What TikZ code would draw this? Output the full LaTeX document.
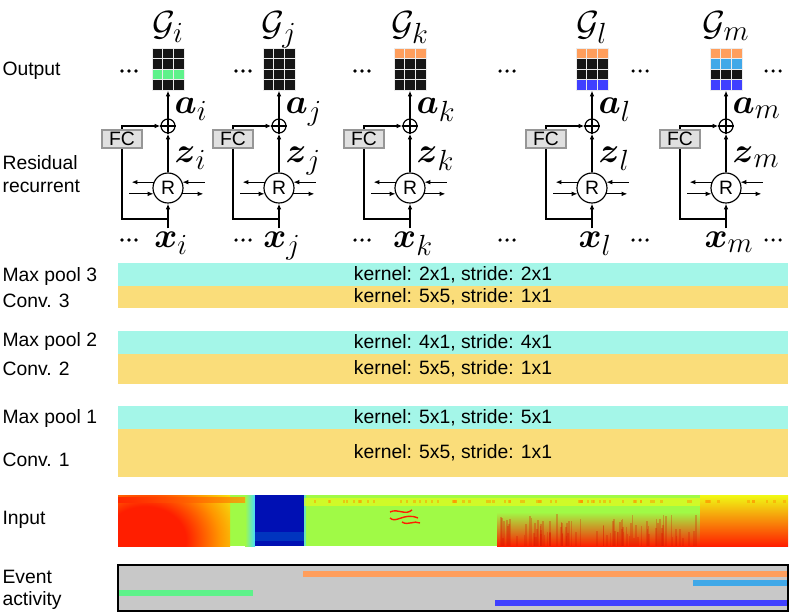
\documentclass[tikz,border=0pt]{standalone}
\usepackage{amsmath}
\usepackage{fontspec}
\setsansfont{Liberation Sans}
\usetikzlibrary{arrows.meta}
\usetikzlibrary{positioning}

\definecolor{poolcyan}{RGB}{164,246,232}
\definecolor{convyellow}{RGB}{250,221,122}
\definecolor{blk}{RGB}{22,22,22}
\definecolor{evgreen}{RGB}{94,242,138}
\definecolor{evorange}{RGB}{255,158,92}
\definecolor{evsky}{RGB}{64,168,232}
\definecolor{evblue}{RGB}{64,64,255}
\definecolor{evgray}{RGB}{200,200,200}
\definecolor{fcfill}{RGB}{224,224,224}
\definecolor{fcline}{RGB}{150,150,150}
\definecolor{specred}{RGB}{255,30,0}
\definecolor{specorange}{RGB}{255,150,0}
\definecolor{specyellow}{RGB}{240,250,20}
\definecolor{specgreen}{RGB}{160,250,70}
\definecolor{speccyan}{RGB}{70,220,255}
\definecolor{specdeep}{RGB}{0,16,180}
\pgfdeclareradialshading{jetblob}{\pgfpoint{0bp}{0bp}}{color(0bp)=(specred); color(12bp)=(specred); color(22bp)=(specorange); color(32bp)=(specyellow); color(42bp)=(specgreen); color(50bp)=(specgreen)}

\begin{document}
\begin{tikzpicture}[
	x=0.03cm, y=-0.03cm,
	line width=1pt,
	>={Latex[length=5pt,width=4pt]},
	font=\sffamily\fontsize{16.5}{19}\selectfont
]
\tikzset{
    mlab/.style = {inner sep=0pt, font=\fontsize{24.88}{27}\selectfont, scale=1.2, transform shape},
    rnode/.style = {circle, draw=black, minimum size=0.9cm, inner sep=0pt},
    plusnode/.style = {circle, draw=black, minimum size=0.42cm, inner sep=0pt},
    fcbox/.style = {draw=fcline, fill=fcfill, line width=1.5pt, minimum width=1.2cm, minimum height=0.54cm, inner sep=0pt},
    gridbox/.style = {minimum width=0.96cm, minimum height=1.26cm, inner sep=0pt},
    poolbar/.style = {fill=poolcyan, minimum width=20.1cm, minimum height=0.69cm, inner sep=0pt, outer sep=0pt},
    convbar/.style = {fill=convyellow, minimum width=20.1cm, inner sep=0pt, outer sep=0pt},
    rowlab/.style = {anchor=west, inner sep=0pt, align=left},
    evline/.style = {line width=4.5pt}
}
\useasboundingbox (0,0) rectangle (789,615);
%
% left labels
\node[rowlab] (lout) at (2,71) {Output};
\node[rowlab] (lres) at (2,174) {Residual\\recurrent};
\node[rowlab] (lmp3) at (2,276) {Max pool 3};
\node[rowlab] (lcv3) at (2,301) {Conv. 3};
\node[rowlab] (lmp2) at (2,341) {Max pool 2};
\node[rowlab] (lcv2) at (2,369) {Conv. 2};
\node[rowlab] (lmp1) at (2,418) {Max pool 1};
\node[rowlab] (lcv1) at (2,460) {Conv. 1};
\node[rowlab] (lin) at (2,520) {Input};
\node[rowlab] (lev) at (2,590) {Event\\activity};
%
% recurrent columns
\foreach \cx/\s/\ca/\cb/\cc/\cd in {168/i/blk/blk/evgreen/blk, 279/j/blk/blk/blk/blk,
    410/k/evorange/blk/blk/blk, 592/l/evorange/blk/blk/evblue, 726/m/evorange/evsky/blk/evblue}{
  \node[gridbox] (g-\s) at (\cx,69) {};
  \foreach \c [count=\r from 0] in {\ca,\cb,\cc,\cd}
    \foreach \q in {0,1,2}
      \filldraw[fill=\c, draw=white!85!gray, line width=0.4pt]
        (\cx-16+\q*10.67,48+\r*10.5) rectangle ++(10.67,10.5);
  \node[mlab, anchor=base] (gl-\s) at (\cx,35) {$\mathcal{G}_{\s}$};
  \node[plusnode] (p-\s) at (\cx,126) {};
  \draw (p-\s.north) -- (p-\s.south) (p-\s.west) -- (p-\s.east);
  \node[rnode] (r-\s) at (\cx,188) {R};
  \node[fcbox] (fc-\s) at (\cx-46,139) {FC};
  \node[mlab, anchor=base] (x-\s) at (\cx+3,247) {$\boldsymbol{x}_{\s}$};
  \node[mlab, anchor=base west] (a-\s) at (\cx+6,113) {$\boldsymbol{a}_{\s}$};
  \node[mlab, anchor=base west] (z-\s) at (\cx+6,162) {$\boldsymbol{z}_{\s}$};
  \coordinate (j-\s) at (\cx,219);
  %
  \draw[->] (x-\s.north -| r-\s) [shorten <=2pt] -- (r-\s.south);
  \draw[->] (r-\s) -- (p-\s);
  \draw[->] (p-\s) -- (g-\s.south);
  \draw (j-\s) -| (fc-\s.south);
  \draw[->] (fc-\s.north) |- (p-\s.west);
  \draw[->] (r-\s.158) -- ++(-22,0);
  \draw[<-] (r-\s.22) -- ++(23,0);
  \draw[<-] (r-\s.202) -- ++(-25,0);
  \draw[->] (r-\s.-22) -- ++(21,0);
}
%
% ellipses between the columns
\foreach \dx in {129,243,362,507,640,773}
  \foreach \dy in {71,240}
    \foreach \e in {-7,0,7}
      \fill (\dx+\e,\dy) circle (1.5pt);
%
% cnn layers
\node[poolbar] (mp3) at (453,274.5) {kernel: 2x1, stride: 2x1};
\node[convbar, minimum height=0.66cm] (cv3) at (453,297) {kernel: 5x5, stride: 1x1};
\node[poolbar] (mp2) at (453,342.5) {kernel: 4x1, stride: 4x1};
\node[convbar, minimum height=0.9cm] (cv2) at (453,369) {kernel: 5x5, stride: 1x1};
\node[poolbar] (mp1) at (453,417.5) {kernel: 5x1, stride: 5x1};
\node[convbar, minimum height=1.44cm] (cv1) at (453,453) {kernel: 5x5, stride: 1x1};
%
% input spectrogram
\begin{scope}
\clip (118,495) rectangle (788,546);
\fill[specgreen] (118,495) rectangle (247,546);
\begin{scope}
\clip (118,495) rectangle (247,546);
\shade[shading=jetblob] (60,470) rectangle (230,610);
\end{scope}
\shade[left color=specgreen, right color=speccyan] (245,495) rectangle (255,546);
\shade[left color=specred, right color=specorange, opacity=0.8] (118,497) rectangle (245,502);
\fill[specdeep] (255,495) rectangle (304,546);
\fill[specdeep!85!cyan] (255,532) rectangle (304,541);
\fill[specgreen] (304,495) rectangle (788,546);
\fill[speccyan!60!specgreen] (304,495) rectangle (306,546);
\fill[specyellow, opacity=0.6] (304,498) rectangle (788,506);
\shade[top color=specgreen, bottom color=specred] (497,512) rectangle (700,546);
\shade[top color=specyellow, middle color=specred!60!specorange, bottom color=specred] (700,495) rectangle (788,546);
\pgfmathsetseed{11}
\foreach \k in {1,...,90}{
  \pgfmathsetmacro\sx{500+rnd*200}
  \pgfmathsetmacro\sh{8+rnd*24}
  \fill[specred!85!black, opacity=0.3] (\sx,546) rectangle ++(1.6,-\sh);
}
\foreach \k in {1,...,70}{
  \pgfmathsetmacro\sx{306+rnd*482}
  \fill[specorange, opacity=0.5] (\sx,500) rectangle ++(2.5,3);
}
\draw[specred, line width=1.2pt] (390,512) .. controls (398,508) and (405,516) .. (412,510);
\draw[specred, line width=1.2pt] (390,518) .. controls (396,524) and (404,512) .. (418,518);
\draw[specred, line width=1.2pt] (402,522) .. controls (408,526) and (414,520) .. (420,523);
\end{scope}
%
% event activity
\draw[fill=evgray, line width=1.2pt] (118,565) rectangle (788,611);
\coordinate (e1a) at (303,574);
\coordinate (e1b) at (787,574);
\coordinate (e2a) at (693,583);
\coordinate (e2b) at (787,583);
\coordinate (e3a) at (119,593);
\coordinate (e3b) at (253,593);
\coordinate (e4a) at (495,603);
\coordinate (e4b) at (787,603);
\draw[evline, evorange] (e1a) -- (e1b);
\draw[evline, evsky] (e2a) -- (e2b);
\draw[evline, evgreen] (e3a) -- (e3b);
\draw[evline, evblue] (e4a) -- (e4b);
\end{tikzpicture}
\end{document}
